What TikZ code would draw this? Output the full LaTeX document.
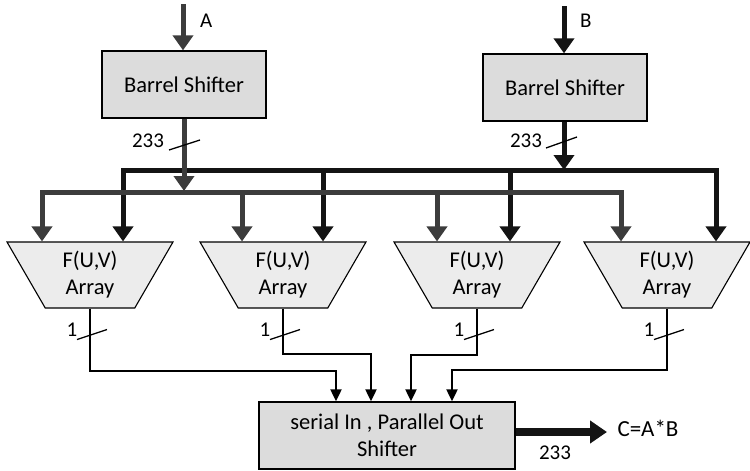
\documentclass[tikz,border=0pt]{standalone}
\usepackage{fontspec}
\setmainfont{Carlito}
\usetikzlibrary{shapes.geometric,arrows.meta,calc}
\definecolor{busgray}{HTML}{3C3C3C}
\definecolor{busdark}{HTML}{141414}
\definecolor{boxfill}{HTML}{DCDCDC}
\definecolor{trapfill}{HTML}{ECECEC}
\begin{document}
\begin{tikzpicture}[x=1pt,y=-1pt,
  every node/.style={font=\fontsize{22.5}{27}\selectfont, inner sep=0pt},
  block/.style={draw=black, line width=1.3pt, fill=boxfill, align=center},
  fuv/.style={trapezium, draw=black, line width=1.1pt, fill=trapfill, align=center,
    trapezium angle=63.5, shape border rotate=180, trapezium stretches=true,
    minimum width=166pt, minimum height=66pt},
  busA/.style={draw=busgray, line width=5pt},
  busB/.style={draw=busdark, line width=5pt},
  bigtip/.style={-{Triangle[width=20pt,length=15pt]}},
  thin/.style={draw=black, line width=2pt},
  thintip/.style={-{Triangle[width=11pt,length=12pt]}},
  slash/.style={draw=black, line width=1.3pt},
  lbl/.style={font=\fontsize{21}{25}\selectfont}]
\useasboundingbox (0,0) rectangle (750,471);

% blocks
\node[block, minimum width=164pt, minimum height=67pt] (bsA) at (184,84.5) {Barrel Shifter};
\node[block, minimum width=164pt, minimum height=67pt] (bsB) at (565,87.5) {Barrel Shifter};
\node[fuv] (t1) at (90,275) {F(U,V)\\Array};
\node[fuv] (t2) at (283,275) {F(U,V)\\Array};
\node[fuv] (t3) at (477,275) {F(U,V)\\Array};
\node[fuv] (t4) at (667,275) {F(U,V)\\Array};
\node[block, minimum width=256pt, minimum height=67pt] (sh) at (387,435.5) {serial In , Parallel Out\\Shifter};

% inputs
\coordinate (inA) at (183,4);
\coordinate (inB) at (564,6);
\draw[busA, bigtip] (inA) -- (inA |- bsA.north);
\draw[busB, bigtip] (inB) -- (inB |- bsB.north);
\node[lbl, anchor=west] (la) at (200,21) {A};
\node[lbl, anchor=west] (lb) at (580,21) {B};

% bus coordinates
\coordinate (jA) at (184,192);
\coordinate (jB) at (564,170);
\coordinate (gA1) at (42,192);
\coordinate (gA2) at (242,192);
\coordinate (gA3) at (437,192);
\coordinate (gA4) at (621,192);
\coordinate (dB1) at (123,170);
\coordinate (dB2) at (323,170);
\coordinate (dB3) at (510,170);
\coordinate (dB4) at (716,170);

% dark (B) bus
\draw[busB, bigtip] (bsB.south -| jB) -- (jB);
\draw[busB, line cap=rect] (dB1) -- (dB4);
\draw[busB, bigtip] (dB1) -- (dB1 |- t1.north);
\draw[busB, bigtip] (dB2) -- (dB2 |- t2.north);
\draw[busB, bigtip] (dB3) -- (dB3 |- t3.north);
\draw[busB, bigtip] (dB4) -- (dB4 |- t4.north);

% gray (A) bus
\draw[busA, line cap=rect] (gA1) -- (gA4);
\draw[busA, bigtip] (gA1) -- (gA1 |- t1.north);
\draw[busA, bigtip] (gA2) -- (gA2 |- t2.north);
\draw[busA, bigtip] (gA3) -- (gA3 |- t3.north);
\draw[busA, bigtip] (gA4) -- (gA4 |- t4.north);
\draw[busA, bigtip] (bsA.south -| jA) -- ($(jA)+(0,-1)$);

% bus width marks
\coordinate (sa1) at (169,150); \coordinate (sa2) at (200,140);
\draw[slash] (sa1) -- (sa2);
\node[lbl] (na) at (148,141) {233};
\coordinate (sb1) at (546,148); \coordinate (sb2) at (577,137);
\draw[slash] (sb1) -- (sb2);
\node[lbl] (nb) at (526,141) {233};

% F outputs to shifter
\coordinate (i1) at (336,0);
\coordinate (i2) at (371,0);
\coordinate (i3) at (411,0);
\coordinate (i4) at (452,0);
\draw[thin, thintip] (t1.south) -- ++(0,62) -| (i1 |- sh.north);
\draw[thin, thintip] (t2.south) -- ++(0,45) -| (i2 |- sh.north);
\draw[thin, thintip] (t3.south) -- ++(0,46) -| (i3 |- sh.north);
\draw[thin, thintip] (t4.south) -- ++(0,61) -| (i4 |- sh.north);

% 1-bit marks
\foreach \t in {t1,t2,t3,t4}{
  \draw[slash] ($(\t.south)+(-13,31)$) -- ($(\t.south)+(17,21)$);
  \node[lbl] at ($(\t.south)+(-18,21)$) {1};
}

% output
\coordinate (outC) at (607,432);
\draw[draw=busdark, line width=8pt, -{Triangle[width=22pt,length=17pt]}] (sh.east |- outC) -- (outC);
\node[font=\fontsize{23}{27}\selectfont] (lc) at (648,428) {C=A*B};
\node[lbl] (lo) at (555,453) {233};
\end{tikzpicture}
\end{document}
